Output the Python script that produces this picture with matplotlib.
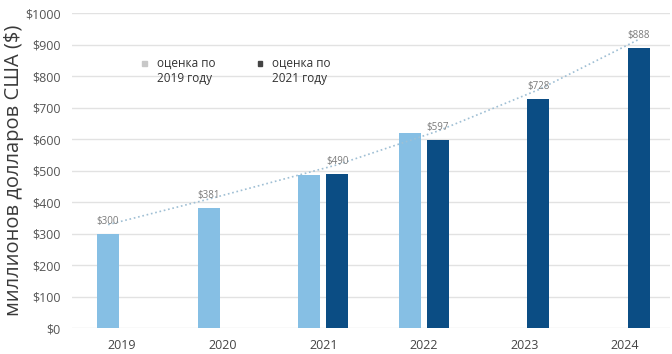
import matplotlib.pyplot as plt
import matplotlib.transforms as mtransforms
import numpy as np

plt.rcParams['font.family'] = ['Open Sans', 'DejaVu Sans']

years = ['2019', '2020', '2021', '2022', '2023', '2024']
est_2019 = [300, 381, 487, 620, np.nan, np.nan]
est_2021 = [np.nan, np.nan, 490, 597, 728, 888]
shown = [300, 381, 490, 597, 728, 888]
shown_idx = [0, 1, 2, 3, 4, 5]
shown_off = [-0.14, -0.14, 0.14, 0.14, 0.14, 0.14]

light = '#86bfe4'
dark = '#0b4d84'

fig = plt.figure(figsize=(6.72, 3.54), dpi=100)
ax = fig.add_axes([0.107, 0.073, 0.89, 0.89])

x = np.arange(len(years))
w = 0.22
ax.bar(x - 0.14, est_2019, w, color=light, label='оценка по\n2019 году', zorder=2)
ax.bar(x + 0.14, est_2021, w, color=dark, label='оценка по\n2021 году', zorder=2)

# value labels and the dotted trend line running through them
xs = np.array(shown_idx) + np.array(shown_off)
up = mtransforms.offset_copy(ax.transData, fig=fig, x=0, y=9, units='dots')
ax.plot(xs, shown, ls=':', color='#9fbfd4', lw=1.2, transform=up, zorder=3)
for xi, v in zip(xs, shown):
    ax.annotate(f'${v}', (xi, v), xytext=(0, 5), textcoords='offset points',
                ha='center', va='bottom', fontsize=7, color='#7a7a7a', zorder=4)

ax.set_ylim(0, 1000)
ax.set_xlim(-0.5, 5.45)
ax.set_yticks(np.arange(0, 1001, 100))
ax.set_yticklabels([f'${t}' for t in range(0, 1001, 100)], fontsize=9, color='#555555')
ax.set_xticks(x)
ax.set_xticklabels(years, fontsize=9, color='#444444')
ax.tick_params(length=0)
ax.tick_params(axis='x', pad=8)
ax.tick_params(axis='y', pad=8)
ax.grid(axis='y', color='#e2e2e2', lw=1, zorder=0)
for s in ax.spines.values():
    s.set_visible(False)

ax.set_ylabel('миллионов долларов США ($)', fontsize=14.5, color='#3a3a3a', labelpad=1)

h, l = ax.get_legend_handles_labels()
leg = ax.legend(h, l, ncol=2, loc='upper left', bbox_to_anchor=(0.1, 0.895),
                frameon=False, fontsize=8.5, handlelength=0.4, handleheight=0.4,
                columnspacing=3.6, handletextpad=0.8, labelcolor='#333333')
for p in leg.get_patches():
    p.set_height(3.5)
    p.set_width(3.5)
    p.set_y(p.get_y() + 6)
leg.get_patches()[0].set_color('#c8c8c8')
leg.get_patches()[1].set_color('#444444')

fig.savefig('out.png', dpi=100)
